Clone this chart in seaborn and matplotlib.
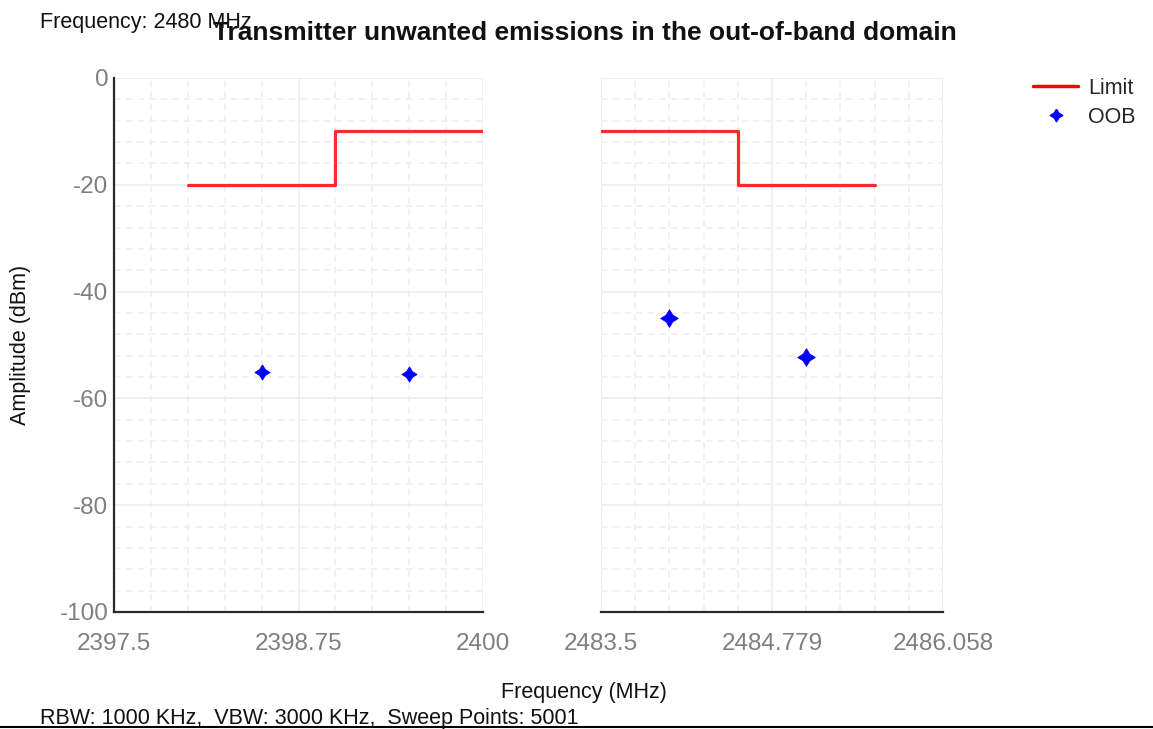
import matplotlib
matplotlib.use("Agg")
import numpy as np
import pandas as pd
import matplotlib.pyplot as plt
import seaborn as sns
from matplotlib.lines import Line2D
from matplotlib.ticker import MultipleLocator, FixedLocator

# ---------------- data ----------------
left_limit_freq = [2398.0, 2399.0, 2400.0]
left_limit_amp = [-20, -10, -10]
right_limit_freq = [2483.5, 2484.523, 2485.546]
right_limit_amp = [-10, -20, -20]

left_oob_freq = [2398.5, 2399.5]
left_oob_amp = [-55.1, -55.4]
right_oob_freq = [2484.01, 2485.035]
right_oob_amp = [-45.0, -52.2]

left_xticks = [2397.5, 2398.75, 2400.0]
left_xticklabels = ["2397.5", "2398.75", "2400"]
right_xticks = [2483.5, 2484.779, 2486.058]
right_xticklabels = ["2483.5", "2484.779", "2486.058"]
yticks = [-100, -80, -60, -40, -20, 0]

title = "Transmitter unwanted emissions in the out-of-band domain"
freq_note = "Frequency: 2480 MHz"
bottom_note = "RBW: 1000 KHz,  VBW: 3000 KHz,  Sweep Points: 5001"

# ---------------- style ----------------
sns.set_theme(style="white")
plt.rcParams['font.family'] = ['Liberation Sans', 'DejaVu Sans']
plt.rcParams['axes.unicode_minus'] = False

W, H = 1153, 729
fig = plt.figure(figsize=(W / 100, H / 100), dpi=100)

def fx(px):
    return px / W

def fy(py):
    return 1 - py / H

axL = fig.add_axes([fx(114), fy(612), fx(483) - fx(114), fy(78) - fy(612)])
axR = fig.add_axes([fx(601), fy(612), fx(943) - fx(601), fy(78) - fy(612)])

limit_color = '#ff2a2a'
oob_color = '#0000ff'
r = 0.38
star = [(0, 1), (r, r), (1, 0), (r, -r), (0, -1), (-r, -r), (-1, 0), (-r, r), (0, 1)]

left_limit = pd.DataFrame({'freq': left_limit_freq, 'amp': left_limit_amp})
right_limit = pd.DataFrame({'freq': right_limit_freq, 'amp': right_limit_amp})
left_oob = pd.DataFrame({'freq': left_oob_freq, 'amp': left_oob_amp})
right_oob = pd.DataFrame({'freq': right_oob_freq, 'amp': right_oob_amp})

setups = [
    (axL, left_limit, left_oob, (2397.5, 2400.0), left_xticks, left_xticklabels,
     MultipleLocator(0.25), 120),
    (axR, right_limit, right_oob, (2483.5, 2486.058), right_xticks, right_xticklabels,
     FixedLocator(np.linspace(2483.5, 2486.058, 11)), 160),
]

for ax, lim, oob, xl, xt, xtl, minor_loc, msize in setups:
    ax.set_axisbelow(True)
    sns.lineplot(data=lim, x='freq', y='amp', ax=ax, color=limit_color, lw=2.3,
                 drawstyle='steps-post', sort=False, estimator=None, legend=False)
    sns.scatterplot(data=oob, x='freq', y='amp', ax=ax, marker=star, s=msize,
                    color=oob_color, edgecolor=oob_color, linewidth=0.6, legend=False,
                    zorder=5)
    ax.set_xlim(*xl)
    ax.set_ylim(-100, 0)
    ax.set_xticks(xt)
    ax.set_xticklabels(xtl)
    ax.xaxis.set_minor_locator(minor_loc)
    ax.set_yticks(yticks)
    ax.yaxis.set_minor_locator(MultipleLocator(4))
    ax.grid(which='major', color='#ededed', lw=1.2, ls='-')
    ax.grid(which='minor', color='#efefef', lw=1.2, ls=(0, (4, 3)))
    ax.set_xlabel('')
    ax.set_ylabel('')
    ax.tick_params(which='both', length=0)
    ax.tick_params(axis='x', labelsize=17.5, labelcolor='#7f7f7f', pad=15)
    ax.tick_params(axis='y', labelsize=17.5, labelcolor='#7f7f7f', pad=4)
    for s in ['top', 'right']:
        ax.spines[s].set_visible(False)
    ax.spines['bottom'].set_color('#2a2a2a')
    ax.spines['bottom'].set_linewidth(1.6)
    ax.spines['left'].set_color('#2a2a2a')
    ax.spines['left'].set_linewidth(1.6)

axR.spines['left'].set_visible(False)
axR.tick_params(axis='y', labelleft=False)

# ---------------- texts ----------------
fig.text(fx(585), fy(40), title, ha='center', va='baseline', fontsize=19,
         fontweight='bold', color='#111111')
fig.text(fx(40), fy(28), freq_note, ha='left', va='baseline', fontsize=15.5,
         color='#111111')
fig.text(fx(584), fy(698), 'Frequency (MHz)', ha='center', va='baseline',
         fontsize=15.5, color='#111111')
fig.text(fx(21), fy(345), 'Amplitude (dBm)', ha='center', va='center',
         rotation=90, fontsize=15.5, color='#111111')
fig.text(fx(40), fy(724), bottom_note, ha='left', va='baseline', fontsize=15.5,
         color='#111111')
fig.add_artist(Line2D([0, 1], [fy(727), fy(727)], transform=fig.transFigure,
                      color='black', lw=1.5))

# ---------------- legend ----------------
handles = [
    Line2D([], [], color='red', lw=2.5),
    Line2D([], [], color=oob_color, marker=star, ls='none', markersize=9),
]
fig.legend(handles, ['Limit', 'OOB'], loc='upper left',
           bbox_to_anchor=(fx(1033), fy(78)), frameon=False, fontsize=15.5,
           handlelength=2.1, handletextpad=0.45, labelspacing=0.35,
           borderpad=0, borderaxespad=0)

fig.savefig('out.png', dpi=100)
